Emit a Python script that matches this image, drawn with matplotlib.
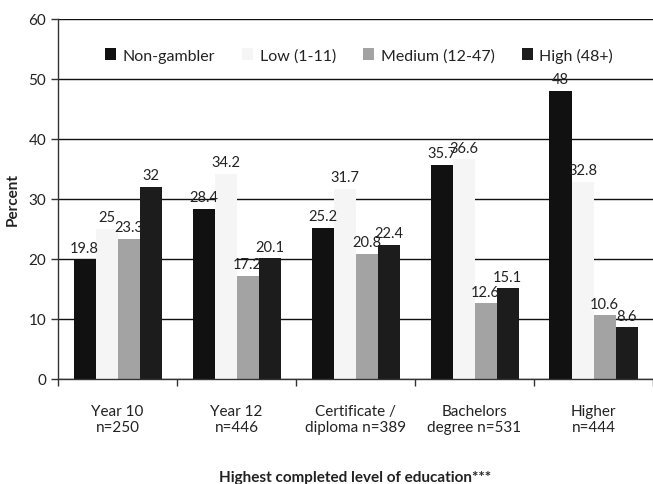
import matplotlib
matplotlib.use("Agg")
import matplotlib.pyplot as plt
import numpy as np

plt.rcParams['font.family'] = ['Lato', 'DejaVu Sans']

categories = ["Year 10\nn=250", "Year 12\nn=446", "Certificate /\ndiploma n=389",
              "Bachelors\ndegree n=531", "Higher\nn=444"]
series_names = ["Non-gambler", "Low (1-11)", "Medium (12-47)", "High (48+)"]
non_gambler = [19.8, 28.4, 25.2, 35.7, 48]
low = [25, 34.2, 31.7, 36.6, 32.8]
medium = [23.3, 17.2, 20.8, 12.6, 10.6]
high = [32, 20.1, 22.4, 15.1, 8.6]
y_ticks = [0, 10, 20, 30, 40, 50, 60]

series = [non_gambler, low, medium, high]
colors = ["#111111", "#f5f5f5", "#a3a3a3", "#1c1c1c"]

fig = plt.figure(figsize=(6.53, 4.85), dpi=100)
ax = fig.add_axes([0.089, 0.2165, 0.911, 0.7423])

n = len(categories)
x = np.arange(n)
bw = 0.185
offsets = (np.arange(4) - 1.5) * bw

for vals, off, col, name in zip(series, offsets, colors, series_names):
    bars = ax.bar(x + off, vals, width=bw, color=col, label=name, zorder=2, linewidth=0)
    for b, v in zip(bars, vals):
        ax.text(b.get_x() + b.get_width() / 2, v + 0.8, f"{v:g}", ha="center", va="bottom",
                fontsize=10.5, color="#222222", zorder=3)

ax.set_xlim(-0.5, n - 0.5)
ax.set_ylim(0, 60)
ax.set_yticks(y_ticks)
ax.yaxis.grid(True, color="#111111", linewidth=1.0, zorder=0)
ax.set_axisbelow(True)

ax.set_xticks(np.arange(n + 1) - 0.5, minor=False)
ax.set_xticklabels([])
ax.set_xticks(x, minor=True)
ax.set_xticklabels(categories, minor=True, fontsize=11, color="#222222")
ax.tick_params(axis="x", which="minor", length=0, pad=18)
ax.tick_params(axis="x", which="major", length=5, width=1, color="#333333")
ax.tick_params(axis="y", length=5, width=1, color="#333333", labelsize=11, labelcolor="#222222")

for s in ["top", "right"]:
    ax.spines[s].set_visible(False)
for s in ["left", "bottom"]:
    ax.spines[s].set_color("#333333")
    ax.spines[s].set_linewidth(1.0)

ax.set_ylabel("Percent", fontsize=11, fontweight="bold", color="#222222", labelpad=6)
ax.set_xlabel("Highest completed level of education***", fontsize=11, fontweight="bold",
              color="#222222", labelpad=26)

ax.legend(ncol=4, loc="center", bbox_to_anchor=(0.506, 0.9), frameon=False,
          fontsize=11.5, handlelength=0.7, handleheight=0.7, handletextpad=0.4,
          columnspacing=1.7, labelcolor="#222222")

fig.savefig("out.png", dpi=100)
